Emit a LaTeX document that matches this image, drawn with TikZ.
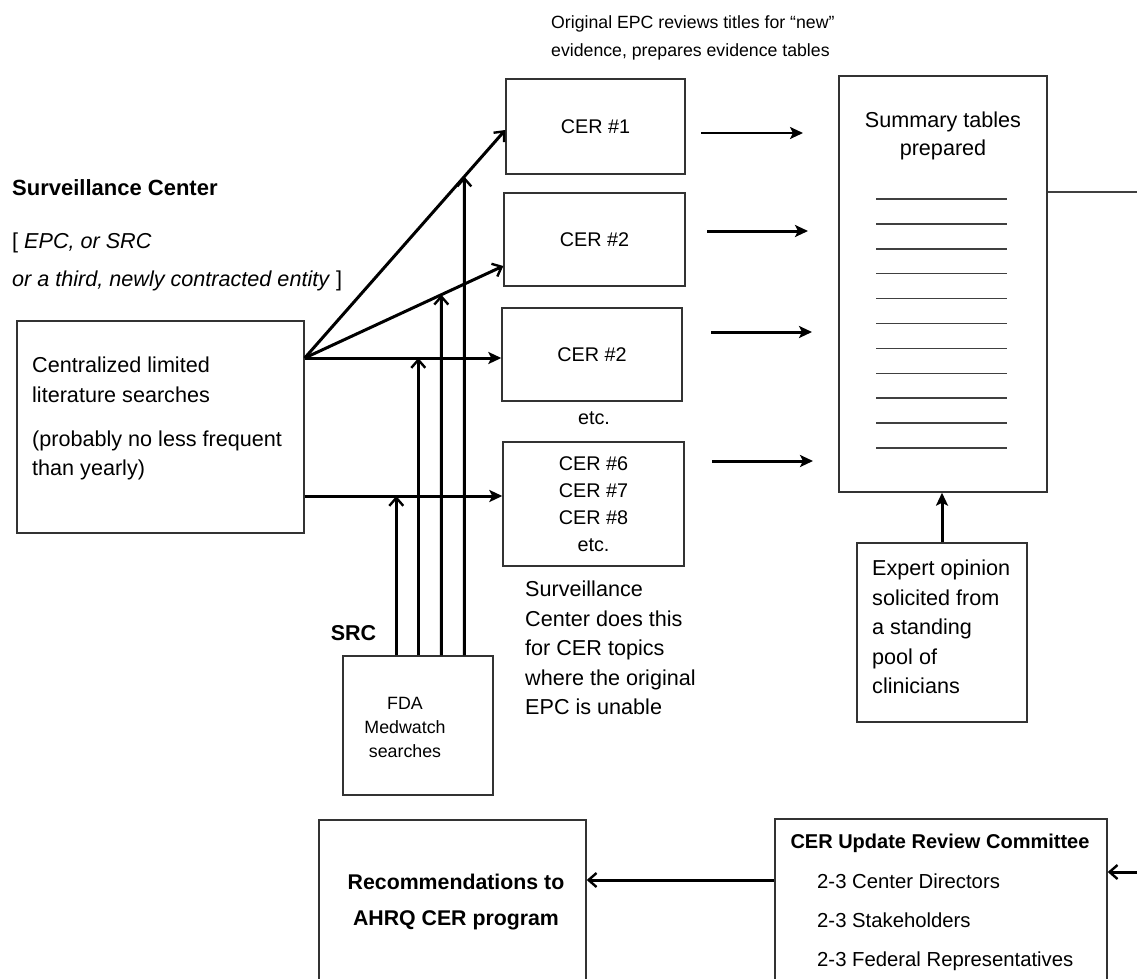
\documentclass[tikz,border=0pt]{standalone}
\usepackage{fontspec}
\setmainfont{Liberation Sans}
\usetikzlibrary{arrows.meta,calc,intersections}

\newcommand{\fsbig}{\fontsize{21.6}{29.5}\selectfont}
\newcommand{\fscer}{\fontsize{19.8}{27}\selectfont}
\newcommand{\fsfda}{\fontsize{17.8}{24}\selectfont}
\newcommand{\fstop}{\fontsize{17.7}{28}\selectfont}
\newcommand{\fscomm}{\fontsize{20.3}{39}\selectfont}

\tikzset{
  box/.style={draw=black!80, line width=1.4pt, inner sep=0pt},
  txt/.style={inner sep=0pt, align=left},
  conn/.style={line width=3pt, -{Stealth[length=13pt,width=12pt,inset=3pt]}},
  barb/.style={line width=3pt, -{Straight Barb[length=8pt,width=14pt,line width=2.4pt]}},
  rule/.style={draw=black!75, line width=1.5pt}
}

\begin{document}
\begin{tikzpicture}[x=1pt,y=-1pt]
  \useasboundingbox (0,0) rectangle (1137,978);
  \clip (0,0) rectangle (1137,978);

  % headings on the left
  \node[txt, anchor=base west, font=\bfseries\fontsize{22}{26}\selectfont] (sctitle) at (12,195) {Surveillance Center};
  \node[txt, anchor=base west, font=\fsbig] (scwho1) at (12,248) {[ \textit{EPC, or SRC}};
  \node[txt, anchor=base west, font=\fsbig] (scwho2) at (12,286) {\textit{or a third, newly contracted entity} ]};

  % literature search box
  \node[box, minimum width=287, minimum height=212] (lit) at (160.5,427) {};
  \node[txt, anchor=north west, font=\fsbig] (littxt) at (32,357)
    {Centralized limited\\literature searches\\[14.5pt](probably no less frequent\\than yearly)};

  % CER boxes
  \node[box, minimum width=179, minimum height=95, font=\fscer] (cer1) at (595.5,126.5) {CER \#1};
  \node[box, minimum width=181, minimum height=93, font=\fscer] (cer2) at (594.5,239.5) {CER \#2};
  \node[box, minimum width=180, minimum height=93, font=\fscer] (cer3) at (592,354.5) {CER \#2};
  \node[font=\fscer] (etc) at (594,418) {etc.};
  \node[box, minimum width=181, minimum height=124, align=center, font=\fscer] (cer6) at (593.5,504)
    {CER \#6\\CER \#7\\CER \#8\\etc.};

  \node[txt, anchor=north west, font=\fstop] (epctxt) at (551,15.5)
    {Original EPC reviews titles for “new”\\evidence, prepares evidence tables};
  \node[txt, anchor=north west, font=\fsbig] (srvtxt) at (525,581)
    {Surveillance\\Center does this\\for CER topics\\where the original\\EPC is unable};

  % SRC box
  \node[txt, anchor=base, font=\bfseries\fontsize{21.5}{26}\selectfont] (srclbl) at (353.5,640) {SRC};
  \node[box, minimum width=150, minimum height=139] (fda) at (418,725.5) {};
  \node[align=center, inner sep=0pt, font=\fsfda] (fdatxt) at (405,727) {FDA\\Medwatch\\searches};

  % summary tables
  \node[box, minimum width=208, minimum height=416] (sum) at (943,284) {};
  \node[align=center, inner sep=0pt, font=\fontsize{21.6}{28}\selectfont] (sumtxt) at (943,136) {Summary tables\\prepared};
  \foreach \k in {0,...,10}
    \draw[rule] (876,{199+24.9*\k}) -- (1007,{199+24.9*\k});

  \node[box, minimum width=170, minimum height=179] (exp) at (942,632.5) {};
  \node[txt, anchor=north west, font=\fsbig] (exptxt) at (872,560)
    {Expert opinion\\solicited from\\a standing\\pool of\\clinicians};

  % bottom boxes
  \node[box, minimum width=267, minimum height=190] (rec) at (452.5,915) {};
  \node[align=center, inner sep=0pt, font=\bfseries\fontsize{21.3}{36}\selectfont] (rectxt) at (456,902)
    {Recommendations to\\AHRQ CER program};
  \node[box, minimum width=332, minimum height=191] (comm) at (941,914.5) {};
  \node[inner sep=0pt, font=\bfseries\fontsize{20}{24}\selectfont] (commtitle) at (940,843) {CER Update Review Committee};
  \node[txt, anchor=north west, font=\fscomm] (commtxt) at (817,873.5)
    {2-3 Center Directors\\2-3 Stakeholders\\2-3 Federal Representatives};

  % fan of searches
  \coordinate (fan) at (lit.east |- 0,358);
  \coordinate (low) at (lit.east |- 0,496);
  \draw[barb, name path=f1] (fan) -- ($(cer1.west)+(0,3.5)$);
  \draw[barb, name path=f2] (fan) -- ($(cer2.west)+(0,26.5)$);
  \draw[conn] (fan) -- (fan -| cer3.west);
  \draw[conn] (low) -- (low -| cer6.west);

  % SRC feeds
  \foreach \i/\dx in {1/54,2/76,3/99,4/122}
    \coordinate (src\i) at ($(fda.north west)+(\dx,0)$);
  \path[name path=v3] (src3) -- ++(0,-600);
  \path[name path=v4] (src4) -- ++(0,-600);
  \path[name intersections={of=f2 and v3, by=x3}];
  \path[name intersections={of=f1 and v4, by=x4}];
  \draw[barb] (src1) -- (src1 |- low);
  \draw[barb] (src2) -- (src2 |- fan);
  \draw[barb] (src3) -- (x3);
  \draw[barb] (src4) -- (x4);

  % towards the summary tables
  \foreach \n/\y/\xa/\xb/\lw in {1/133/701/803/2.4, 2/231/707/808/3, 3/332/711/812/3, 4/461/712/813/3} {
    \coordinate (out\n) at (\xa,\y);
    \coordinate (in\n) at (\xb,\y);
    \draw[conn, line width=\lw pt] (out\n) -- (in\n);
  }
  \draw[conn] (exp.north) -- (exp.north |- sum.south);

  % to the committee and on
  \coordinate (tap) at (sum.east |- 0,192);
  \coordinate (cin) at (comm.east |- 0,872);
  \draw[rule] (tap) -- ++(120,0);
  \draw[barb] ($(cin)+(60,0)$) -- (cin);
  \draw[barb] (comm.west |- 0,880) -- (rec.east |- 0,880);
\end{tikzpicture}
\end{document}
